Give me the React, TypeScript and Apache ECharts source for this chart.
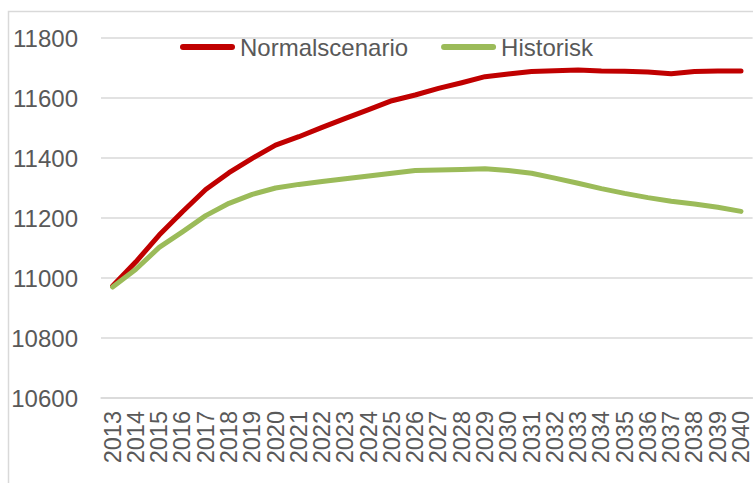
import React, { useEffect, useRef } from "react";
import * as echarts from "echarts";

const years: string[] = [
  "2013", "2014", "2015", "2016", "2017", "2018", "2019", "2020", "2021", "2022",
  "2023", "2024", "2025", "2026", "2027", "2028", "2029", "2030", "2031", "2032",
  "2033", "2034", "2035", "2036", "2037", "2038", "2039", "2040",
];

const normalscenario: number[] = [
  10973, 11054, 11143, 11221, 11295, 11351, 11399, 11443, 11471, 11502,
  11532, 11561, 11591, 11610, 11632, 11651, 11671, 11680, 11688, 11691,
  11693, 11690, 11689, 11687, 11681, 11688, 11690, 11690,
];

const historisk: number[] = [
  10970, 11029, 11102, 11154, 11208, 11249, 11279, 11300, 11312, 11322,
  11331, 11340, 11349, 11358, 11360, 11362, 11364, 11358, 11349, 11333,
  11316, 11298, 11282, 11268, 11256, 11247, 11236, 11222,
];

const seriesNames: string[] = ["Normalscenario", "Historisk"];
const yTicks = { min: 10600, max: 11800, interval: 200 };

const FONT = "'Liberation Sans', Arial, sans-serif";
const TEXT = "#595959";
const GRID = "#d9d9d9";

export default function App() {
  const ref = useRef<HTMLDivElement>(null);
  useEffect(() => {
    if (!ref.current) return;
    const chart = echarts.init(ref.current, null, { renderer: "svg" });
    const icon = "path://M3,0 L52,0 A3,3 0 0 1 52,6 L3,6 A3,3 0 0 1 3,0 Z";
    chart.setOption({
      animation: false,
      backgroundColor: "#ffffff",
      textStyle: { fontFamily: FONT },
      graphic: [
        {
          type: "rect",
          shape: { x: 8.5, y: 11.5, width: 800, height: 600 },
          style: { fill: "none", stroke: GRID, lineWidth: 1.5 },
          silent: true,
          z: -1,
        },
      ],
      legend: {
        left: 175,
        top: 30,
        itemWidth: 55,
        itemHeight: 6,
        itemGap: 33,
        textStyle: { fontSize: 24, color: TEXT, fontFamily: FONT },
        data: [
          { name: seriesNames[0], icon },
          { name: seriesNames[1], icon },
        ],
      },
      grid: { left: 101, right: 0, top: 38, bottom: 85 },
      xAxis: {
        type: "category",
        data: years,
        boundaryGap: true,
        axisLine: { lineStyle: { color: GRID, width: 1.5 } },
        axisTick: { inside: true, length: 5, lineStyle: { color: GRID } },
        axisLabel: {
          rotate: 90,
          interval: 0,
          fontSize: 23.5,
          color: TEXT,
          fontFamily: FONT,
          margin: 13,
        },
      },
      yAxis: {
        type: "value",
        min: yTicks.min,
        max: yTicks.max,
        interval: yTicks.interval,
        axisLine: { show: false },
        axisTick: { show: false },
        axisLabel: {
          fontSize: 24,
          color: TEXT,
          fontFamily: FONT,
          margin: 23,
          formatter: (v: number) => String(v),
        },
        splitLine: { lineStyle: { color: GRID, width: 1.5 } },
      },
      series: [
        {
          name: seriesNames[0],
          type: "line",
          data: normalscenario,
          symbol: "none",
          color: "#C00000",
          lineStyle: { width: 5, color: "#C00000", cap: "round", join: "round" },
        },
        {
          name: seriesNames[1],
          type: "line",
          data: historisk,
          symbol: "none",
          color: "#9BBB59",
          lineStyle: { width: 5, color: "#9BBB59", cap: "round", join: "round" },
        },
      ],
    });
    return () => chart.dispose();
  }, []);
  return (
    <div
      ref={ref}
      style={{ position: "fixed", left: 0, top: 0, width: 753, height: 483 }}
    />
  );
}
